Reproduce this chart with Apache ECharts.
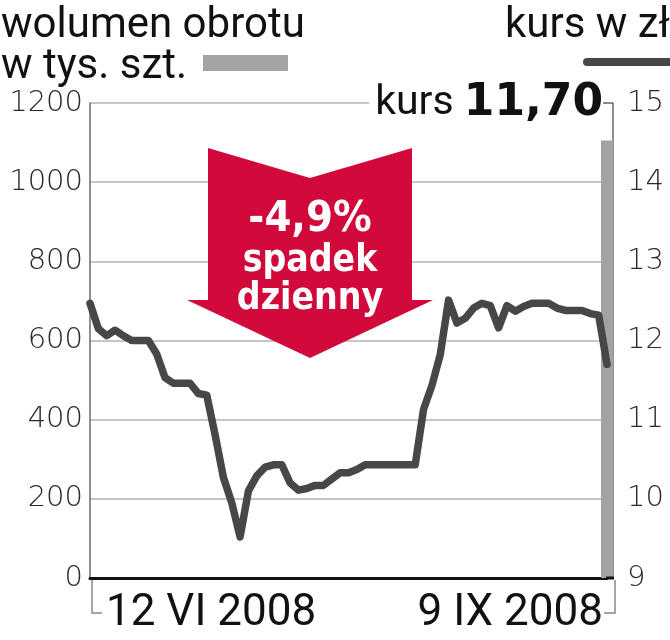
<!DOCTYPE html>
<html>
<head>
<meta charset="utf-8">
<script src="https://cdn.jsdelivr.net/npm/echarts@6/dist/echarts.min.js"></script>
<style>html,body{margin:0;padding:0;background:#fff}#c{width:670px;height:640px}</style>
</head>
<body>
<div id="c"></div>
<script>
const dates = [
 "12 VI 2008","13 VI 2008","16 VI 2008","17 VI 2008","18 VI 2008","19 VI 2008","20 VI 2008","23 VI 2008","24 VI 2008","25 VI 2008","26 VI 2008","27 VI 2008","30 VI 2008",
 "1 VII 2008","2 VII 2008","3 VII 2008","4 VII 2008","7 VII 2008","8 VII 2008","9 VII 2008","10 VII 2008","11 VII 2008","14 VII 2008","15 VII 2008","16 VII 2008","17 VII 2008","18 VII 2008","21 VII 2008","22 VII 2008","23 VII 2008","24 VII 2008","25 VII 2008","28 VII 2008","29 VII 2008","30 VII 2008","31 VII 2008",
 "1 VIII 2008","4 VIII 2008","5 VIII 2008","6 VIII 2008","7 VIII 2008","8 VIII 2008","11 VIII 2008","12 VIII 2008","13 VIII 2008","14 VIII 2008","18 VIII 2008","19 VIII 2008","20 VIII 2008","21 VIII 2008","22 VIII 2008","25 VIII 2008","26 VIII 2008","27 VIII 2008","28 VIII 2008","29 VIII 2008",
 "1 IX 2008","2 IX 2008","3 IX 2008","4 IX 2008","5 IX 2008","8 IX 2008","9 IX 2008"
];
const price = [
 12.47,12.15,12.06,12.13,12.06,12.00,12.00,12.00,11.83,11.53,11.46,11.46,11.46,11.33,11.31,10.81,10.27,9.95,9.52,10.10,10.29,10.40,10.43,10.43,10.20,10.11,10.13,10.17,10.17,10.25,10.33,10.33,10.37,10.43,10.43,10.43,10.43,10.43,10.43,10.43,11.13,11.43,11.82,12.51,12.22,12.28,12.41,12.47,12.44,12.16,12.44,12.37,12.43,12.47,12.47,12.47,12.41,12.38,12.38,12.38,12.34,12.32,11.70
];
const volume = [
 0,0,0,0,0,0,0,0,0,0,0,0,0,0,0,0,0,0,0,0,0,0,0,0,0,0,0,0,0,0,0,0,0,0,0,0,0,0,0,0,0,0,0,0,0,0,0,0,0,0,0,0,0,0,0,0,0,0,0,0,0,0,1105
];
const volTicks = [0, 1200, 200];
const priceTicks = [9, 15, 1];

const chart = echarts.init(document.getElementById('c'), null, {renderer:'canvas'});
const last = dates.length - 1;
chart.setOption({
  animation:false,
  backgroundColor:'#fff',
  grid:{left:90, right:63, top:103, bottom:62},
  xAxis:{
    type:'category', data:dates, boundaryGap:false,
    axisLine:{lineStyle:{color:'#111', width:3}},
    axisTick:{show:false},
    splitLine:{show:false},
    axisLabel:{
      interval:(i)=> i===0 || i===last,
      alignMinLabel:'left', alignMaxLabel:'right',
      fontFamily:'Roboto', fontSize:44, color:'#111', margin:14,
      formatter:(v,i)=> i===0 ? '{l|'+v+'}' : '{r|'+v+'}',
      rich:{
        l:{fontFamily:'Roboto', fontSize:44, color:'#111', padding:[0,0,0,16]},
        r:{fontFamily:'Roboto', fontSize:44, color:'#111', padding:[0,4,0,0]}
      }
    }
  },
  yAxis:[
    {type:'value', min:volTicks[0], max:volTicks[1], interval:volTicks[2], position:'left',
     axisLine:{show:true, lineStyle:{color:'#6a6a6a', width:1.5}},
     axisTick:{show:false},
     splitLine:{show:true, lineStyle:{color:'#b3b3b3', width:1.5}},
     axisLabel:{formatter:(v)=>String(v), fontFamily:'DejaVu Sans', fontWeight:200, fontSize:29, color:'#2a2a2a', margin:7}
    },
    {type:'value', min:priceTicks[0], max:priceTicks[1], interval:priceTicks[2], position:'right', offset:6,
     axisLine:{show:true, lineStyle:{color:'#6a6a6a', width:1.5}},
     axisTick:{show:false},
     splitLine:{show:false},
     axisLabel:{formatter:(v)=>String(v), fontFamily:'DejaVu Sans', fontWeight:200, fontSize:29, color:'#2a2a2a', margin:14}
    }
  ],
  series:[
    {type:'bar', yAxisIndex:0, data:volume, barWidth:12, itemStyle:{color:'#a3a3a3'}, z:2},
    {type:'line', yAxisIndex:1, data:price, symbol:'none', z:3,
     lineStyle:{color:'#474747', width:7.5, cap:'round', join:'round'}}
  ],
  graphic:[
    {type:'polygon', z:10, shape:{points:[[208,148],[310,178],[412,148],[412,300],[433,300],[310,358],[187,300],[208,300]]}, style:{fill:'#d20a3c'}},
    {type:'text', z:11, x:310, y:220, style:{text:'-4,9%', fill:'#fff', font:'bold 43px "DejaVu Sans Condensed", "DejaVu Sans"', align:'center', verticalAlign:'middle'}},
    {type:'text', z:11, x:310, y:261, style:{text:'spadek', fill:'#fff', font:'bold 37px "DejaVu Sans Condensed", "DejaVu Sans"', align:'center', verticalAlign:'middle'}},
    {type:'text', z:11, x:310, y:299, style:{text:'dzienny', fill:'#fff', font:'bold 37px "DejaVu Sans Condensed", "DejaVu Sans"', align:'center', verticalAlign:'middle'}},
    {type:'text', z:11, x:1, y:26, style:{text:'wolumen obrotu', fill:'#111', font:'42px Roboto', align:'left', verticalAlign:'middle'}},
    {type:'text', z:11, x:1, y:67, style:{text:'w tys. szt.', fill:'#111', font:'42px Roboto', align:'left', verticalAlign:'middle'}},
    {type:'text', z:11, x:505, y:26, style:{text:'kurs w zł', fill:'#111', font:'42px Roboto', align:'left', verticalAlign:'middle'}},
    {type:'rect', z:11, shape:{x:203, y:55, width:85, height:16}, style:{fill:'#a3a3a3'}},
    {type:'rect', z:11, shape:{x:583, y:58, width:92, height:8, r:4}, style:{fill:'#474747'}},
    {type:'text', z:11, x:604, y:104, style:{
      text:'{a|kurs }{b|11,70}', align:'right', verticalAlign:'middle', backgroundColor:'#fff', padding:[0,1,0,6],
      rich:{a:{font:'41px Roboto', fill:'#111'}, b:{font:'bold 44px "DejaVu Sans"', fill:'#111'}}}},
    {type:'line', z:11, shape:{x1:603, y1:103, x2:613, y2:103}, style:{stroke:'#6a6a6a', lineWidth:1.5}},
    {type:'rect', z:11, shape:{x:606, y:576.5, width:8, height:3}, style:{fill:'#111'}},
    {type:'polyline', z:11, shape:{points:[[92,580],[92,613],[102,613]]}, style:{stroke:'#888', lineWidth:1.5, fill:null}},
    {type:'polyline', z:11, shape:{points:[[604,613],[615,613],[615,580]]}, style:{stroke:'#888', lineWidth:1.5, fill:null}}
  ]
});
</script>
</body>
</html>
